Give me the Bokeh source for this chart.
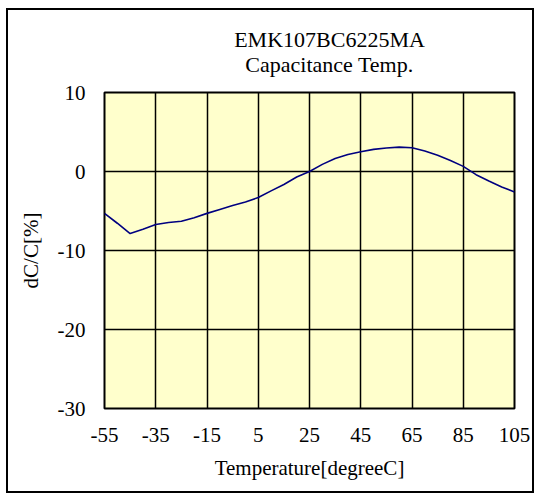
from bokeh.plotting import figure
from bokeh.layouts import column
from bokeh.models import FixedTicker, Range1d
from bokeh.core.properties import value
from bokeh.embed import file_html
from bokeh.resources import INLINE

# ---- data ----
temps = [-55, -50, -45, -40, -35, -30, -25, -20, -15, -10, -5, 0, 5, 10, 15,
         20, 25, 30, 35, 40, 45, 50, 55, 60, 65, 70, 75, 80, 85, 90, 95, 100, 105]
dcc = [-5.3, -6.55, -7.85, -7.3, -6.7, -6.45, -6.3, -5.85, -5.3, -4.8, -4.3, -3.85,
       -3.3, -2.45, -1.65, -0.7, 0.0, 0.9, 1.65, 2.15, 2.5, 2.8, 2.98, 3.08, 3.0,
       2.6, 2.05, 1.4, 0.65, -0.4, -1.2, -1.95, -2.6]
x_ticks = [-55, -35, -15, 5, 25, 45, 65, 85, 105]
y_ticks = [-30, -20, -10, 0, 10]
title_lines = ["EMK107BC6225MA", "Capacitance Temp."]
x_label = "Temperature[degreeC]"
y_label = "dC/C[%]"

FONT = "Liberation Serif"
X_RANGE = Range1d(-55, 105)

# ---- title strip (shares the x scale of the chart) ----
t = figure(width=524, height=70, output_backend="svg", toolbar_location=None,
           x_range=X_RANGE, y_range=Range1d(0, 70),
           x_axis_location=None, y_axis_location=None,
           min_border_left=96, min_border_right=18, min_border_top=0,
           min_border_bottom=0)
t.grid.visible = False
t.outline_line_color = None
t.background_fill_color = "white"
t.border_fill_color = "white"
t.text(x=[32.8, 32.8], y=[41.5, 16], text=title_lines, text_align="center",
       text_baseline="middle", text_font=value(FONT),
       text_font_size="22px", text_color="black")

# ---- chart ----
p = figure(width=524, height=411, output_backend="svg", toolbar_location=None,
           x_range=X_RANGE, y_range=Range1d(-30, 10),
           min_border_left=96, min_border_right=18, min_border_top=12,
           min_border_bottom=83)

p.background_fill_color = "#FFFFCC"
p.border_fill_color = "white"
p.outline_line_color = "black"
p.outline_line_width = 2
p.outline_line_alpha = 1

p.line(temps, dcc, line_color="#000080", line_width=1.6)

for ax in (p.xaxis, p.yaxis):
    ax.axis_line_color = None
    ax.major_tick_line_color = None
    ax.minor_tick_line_color = None
    ax.major_tick_in = 0
    ax.major_tick_out = 0
    ax.major_label_text_font = FONT
    ax.major_label_text_font_size = "21px"
    ax.major_label_text_color = "black"
    ax.axis_label_text_font = FONT
    ax.axis_label_text_font_size = "21px"
    ax.axis_label_text_font_style = "normal"
    ax.axis_label_text_color = "black"

p.xaxis.ticker = FixedTicker(ticks=x_ticks)
p.yaxis.ticker = FixedTicker(ticks=y_ticks)
p.xaxis.major_label_overrides = {v: str(v) for v in x_ticks}
p.yaxis.major_label_overrides = {v: str(v) for v in y_ticks}
p.xaxis.major_label_standoff = 19
p.yaxis.major_label_standoff = 19
p.xaxis.axis_label = x_label
p.yaxis.axis_label = y_label
p.xaxis.axis_label_standoff = 11
p.yaxis.axis_label_standoff = 12

p.xgrid.grid_line_color = "black"
p.ygrid.grid_line_color = "black"
p.xgrid.grid_line_width = 1.5
p.ygrid.grid_line_width = 1.5
p.xgrid.grid_line_alpha = 1
p.ygrid.grid_line_alpha = 1

layout = column(t, p, spacing=0)
layout.styles = {"outline": "2px solid black", "margin-left": "8px",
                 "margin-top": "10px"}

open("out.html", "w").write(file_html(layout, INLINE))
